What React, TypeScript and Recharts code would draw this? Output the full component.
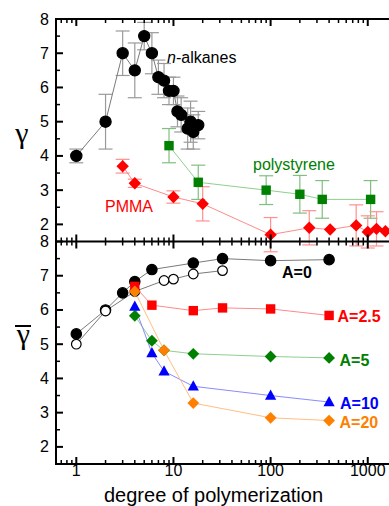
import React from "react";
import { ComposedChart, Line, XAxis, YAxis, ErrorBar } from "recharts";

// ---- top panel: gamma vs degree of polymerization ----
const alkN = [1, 2, 3, 4, 5, 6, 7, 8, 9, 10, 11, 12, 14, 15, 16, 18];
const alkGamma = [4.0, 5.0, 7.0, 6.5, 7.5, 7.0, 6.3, 6.2, 5.9, 5.9, 5.3, 5.2, 4.8, 5.0, 4.7, 4.9];
const alkErr = [0.2, 0.8, 0.65, 0.8, 0.4, 0.6, 0.5, 0.5, 0.4, 0.4, 0.45, 0.5, 0.6, 0.6, 0.5, 0.4];

const psN = [9, 18, 90, 200, 340, 1070];
const psGamma = [4.3, 3.23, 3.0, 2.88, 2.73, 2.73];
const psErr = [0.5, 0.5, 0.42, 0.55, 0.55, 0.55];

const pmmaN = [3, 4, 10, 20, 100, 250, 410, 760, 1000, 1230, 1520];
const pmmaGamma = [3.7, 3.2, 2.8, 2.6, 1.7, 1.9, 1.85, 1.97, 1.78, 1.87, 1.8];
const pmmaErr = [0.2, 0.12, 0.18, 0.5, 0.5, 0.5, 0, 0.6, 0.47, 0.5, 0];

// ---- bottom panel: mean gamma for several A ----
const a0N = [1, 2, 3, 4, 6, 16, 32, 100, 400];
const a0G = [5.3, 6.0, 6.5, 6.83, 7.18, 7.37, 7.5, 7.44, 7.47];
const a0OpenN = [1, 2, 4, 8, 10, 16, 32];
const a0OpenG = [5.0, 5.97, 6.54, 6.86, 6.9, 7.05, 7.15];
const a25N = [4, 6, 16, 32, 100, 400];
const a25G = [6.69, 6.14, 5.98, 6.06, 6.03, 5.84];
const a5N = [4, 6, 8, 16, 100, 400];
const a5G = [5.83, 5.1, 4.82, 4.72, 4.64, 4.6];
const a10N = [4, 6, 8, 16, 100, 400];
const a10G = [6.1, 4.74, 4.21, 3.77, 3.5, 3.31];
const a20N = [4, 8, 16, 100, 400];
const a20G = [6.54, 4.82, 3.28, 2.85, 2.77];

const xTicks = [
  0.7, 0.8, 0.9, 1, 2, 3, 4, 5, 6, 7, 8, 9, 10, 20, 30, 40, 50, 60, 70, 80, 90,
  100, 200, 300, 400, 500, 600, 700, 800, 900, 1000,
];
const xMajor = [1, 10, 100, 1000];
// both panels span 1.5..8; the bottom one is shifted down by 6.5 on the shared left axis
const PANEL_SHIFT = 6.5;
const yTicks = Array.from({ length: 27 }, (_, i) => -5 + i * 0.5);

const pts = (xs: number[], ys: number[], es?: number[]) =>
  xs.map((x, i) => ({ x, y: ys[i], e: es ? es[i] : 0 }));

const FONT = 'Arial, "Liberation Sans", sans-serif';
const PL = 56;
const TOP = 19;
const BOT = 464;
const W = 397;
const BND = TOP + ((8 - 1.5) / 13) * (BOT - TOP);
const X_DOMAIN = [0.618, 2000];

const xTick = (p: any) => {
  const v = p.payload.value;
  const major = xMajor.includes(v);
  const len = major ? 7 : 4;
  const sw = major ? 2 : 1.5;
  return (
    <g>
      {v === 1 && (
        <g stroke="#000" strokeWidth={2}>
          <line x1={PL} x2={W} y1={TOP} y2={TOP} />
          <line x1={PL} x2={W} y1={BND} y2={BND} />
          <line x1={PL} x2={W} y1={BOT} y2={BOT} />
          <line x1={PL} x2={PL} y1={TOP - 1} y2={BOT + 1} />
        </g>
      )}
      <g stroke="#000" strokeWidth={sw}>
        <line x1={p.x} x2={p.x} y1={TOP} y2={TOP + len} />
        <line x1={p.x} x2={p.x} y1={BND - len} y2={BND + len} />
        <line x1={p.x} x2={p.x} y1={BOT} y2={BOT - len} />
      </g>
      {major && (
        <text x={p.x} y={476} textAnchor="middle" fontSize={16} fontFamily={FONT} fill="#000">
          {v}
        </text>
      )}
    </g>
  );
};

const yTick = (p: any) => {
  const t = p.payload.value;
  const v = t >= 2 ? t : t + PANEL_SHIFT;
  const major = Number.isInteger(v);
  return (
    <g>
      <line x1={PL} x2={PL + (major ? 7 : 4)} y1={p.y} y2={p.y} stroke="#000" strokeWidth={major ? 2 : 1.5} />
      {major && (
        <text x={PL - 7} y={p.y + 5.5} textAnchor="end" fontSize={16} fontFamily={FONT} fill="#000">
          {v}
        </text>
      )}
    </g>
  );
};

const circle = (fill: string, stroke: string, r: number) => (p: any) => (
  <circle key={`c${p.index}`} cx={p.cx} cy={p.cy} r={r} fill={fill} stroke={stroke} strokeWidth={1.2} />
);
const square = (c: string, s: number) => (p: any) => (
  <rect key={`s${p.index}`} x={p.cx - s / 2} y={p.cy - s / 2} width={s} height={s} fill={c} />
);
const diamond = (c: string, h: number) => (p: any) => (
  <path
    key={`d${p.index}`}
    d={`M${p.cx},${p.cy - h}L${p.cx + h},${p.cy}L${p.cx},${p.cy + h}L${p.cx - h},${p.cy}Z`}
    fill={c}
  />
);
const triangle = (c: string) => (p: any) => (
  <path
    key={`t${p.index}`}
    d={`M${p.cx},${p.cy - 6}L${p.cx + 5.6},${p.cy + 4.2}L${p.cx - 5.6},${p.cy + 4.2}Z`}
    fill={c}
  />
);

const lineProps = { dataKey: "y", strokeWidth: 1, isAnimationActive: false, activeDot: false as const };

export default function App() {
  return (
    <div
      style={{
        position: "fixed",
        left: 0,
        top: 0,
        width: 389,
        height: 506,
        overflow: "hidden",
        background: "#fff",
        fontFamily: FONT,
      }}
    >
      <ComposedChart width={W} height={506} margin={{ top: TOP, right: 0, bottom: 0, left: 0 }}>
        <XAxis
          dataKey="x"
          type="number"
          scale="log"
          domain={X_DOMAIN}
          allowDataOverflow
          ticks={xTicks}
          interval={0}
          height={506 - BOT}
          tickSize={0}
          tickLine={false}
          axisLine={{ stroke: "#000", strokeWidth: 2 }}
          tick={xTick}
        />
        <YAxis
          yAxisId="t"
          type="number"
          domain={[1.5 - PANEL_SHIFT, 8]}
          allowDataOverflow
          ticks={yTicks}
          interval={0}
          width={PL}
          tickSize={0}
          tickLine={false}
          axisLine={{ stroke: "#000", strokeWidth: 2 }}
          tick={yTick}
        />
        <YAxis yAxisId="b" type="number" domain={[1.5, 8 + PANEL_SHIFT]} allowDataOverflow hide />

        <Line {...lineProps} yAxisId="t" data={pts(alkN, alkGamma, alkErr)} stroke="#7a7a7a" dot={circle("#000", "#000", 5.6)}>
          <ErrorBar dataKey="e" direction="y" width={7} stroke="#9a9a9a" strokeWidth={1.2} />
        </Line>
        <Line {...lineProps} yAxisId="t" data={pts(psN, psGamma, psErr)} stroke="#8fcf8f" dot={square("#008000", 9.4)}>
          <ErrorBar dataKey="e" direction="y" width={7} stroke="#7fbf7f" strokeWidth={1.2} />
        </Line>
        <Line {...lineProps} yAxisId="t" data={pts(pmmaN, pmmaGamma, pmmaErr)} stroke="#ff8a8a" dot={diamond("#ff0000", 6.2)}>
          <ErrorBar dataKey="e" direction="y" width={7} stroke="#ff9090" strokeWidth={1.2} />
        </Line>

        <Line {...lineProps} yAxisId="b" data={pts(a0N, a0G)} stroke="#7a7a7a" dot={circle("#000", "#000", 5.2)} />
        <Line {...lineProps} yAxisId="b" data={pts(a0OpenN, a0OpenG)} stroke="#7a7a7a" dot={circle("#fff", "#000", 4.8)} />
        <Line {...lineProps} yAxisId="b" data={pts(a25N, a25G)} stroke="#ff8a8a" dot={square("#ff0000", 9.4)} />
        <Line {...lineProps} yAxisId="b" data={pts(a5N, a5G)} stroke="#8fcf8f" dot={diamond("#008000", 5.9)} />
        <Line {...lineProps} yAxisId="b" data={pts(a10N, a10G)} stroke="#8a8aff" dot={triangle("#0000ff")} />
        <Line {...lineProps} yAxisId="b" data={pts(a20N, a20G)} stroke="#ffbf80" dot={diamond("#ff8000", 5.9)} />
      </ComposedChart>
      <svg
        width={389}
        height={506}
        style={{ position: "absolute", left: 0, top: 0, pointerEvents: "none" }}
        fontFamily={FONT}
      >
        <text x={22} y={143} textAnchor="middle" fontSize={30} fontFamily='"Liberation Serif", serif'>γ</text>
        <line x1={15} x2={31} y1={326} y2={326} stroke="#000" strokeWidth={2} />
        <text x={23.5} y={344} textAnchor="middle" fontSize={30} fontFamily='"Liberation Serif", serif'>γ</text>
        <text x={167} y={63} fontSize={16} fill="#000">
          <tspan fontStyle="italic">n</tspan>-alkanes
        </text>
        <text x={253} y={170} fontSize={16} fill="#008000">polystyrene</text>
        <text x={105} y={211.5} fontSize={16} fill="#ff0000">PMMA</text>
        <text x={282} y={278} fontSize={16} fontWeight="bold" fill="#000">A=0</text>
        <text x={337.5} y={321.5} fontSize={16} fontWeight="bold" fill="#ff0000">A=2.5</text>
        <text x={339.5} y={366} fontSize={16} fontWeight="bold" fill="#008000">A=5</text>
        <text x={340} y={408.5} fontSize={16} fontWeight="bold" fill="#0000ff">A=10</text>
        <text x={339.5} y={427.5} fontSize={16} fontWeight="bold" fill="#ff8000">A=20</text>
        <text x={213.5} y={501.5} textAnchor="middle" fontSize={20} fill="#000">degree of polymerization</text>
      </svg>
    </div>
  );
}
